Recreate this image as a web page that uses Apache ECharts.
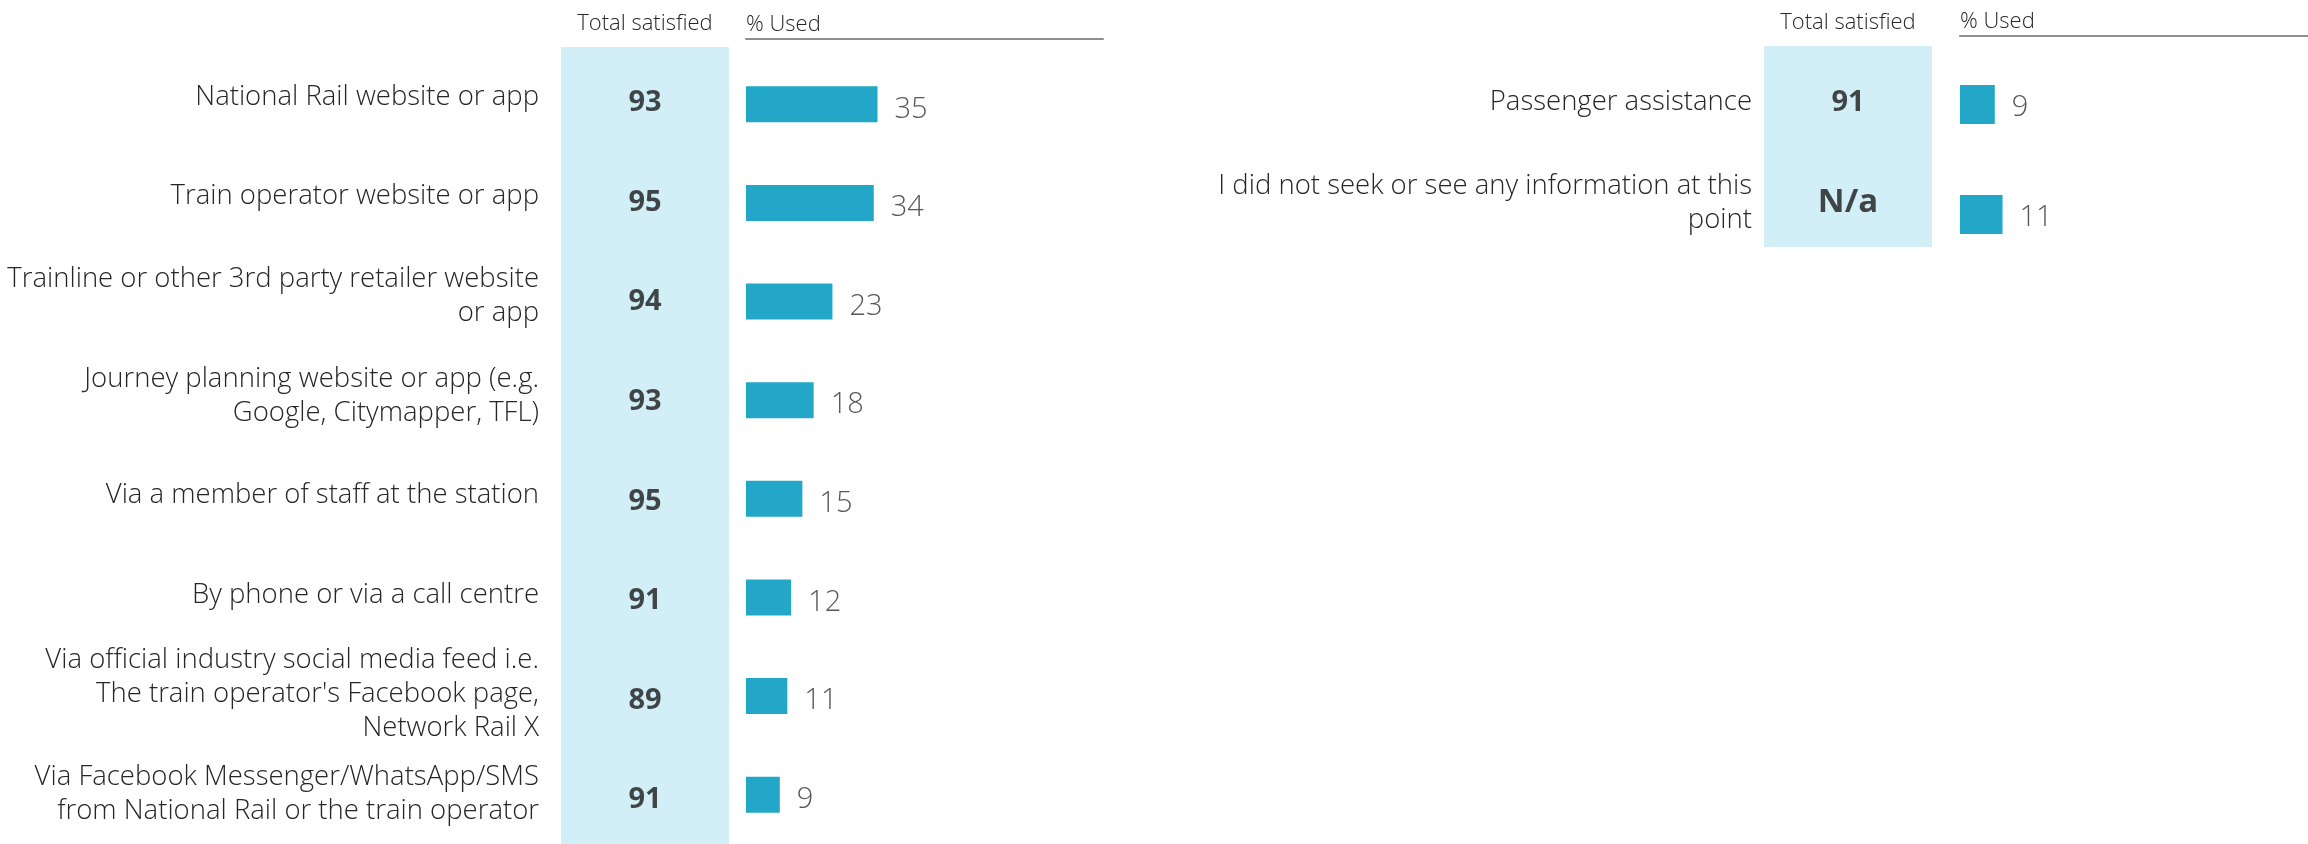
<!DOCTYPE html>
<html>
<head>
<meta charset="utf-8">
<title>Information sources used</title>
<script src="https://cdn.jsdelivr.net/npm/echarts@6/dist/echarts.min.js"></script>
<style>
  html, body { margin: 0; padding: 0; background: #ffffff; }
  #chart { width: 2308px; height: 844px; }
</style>
</head>
<body>
<div id="chart"></div>
<script>
// Left panel: information sources
const leftCategories = [
  'National Rail website or app',
  'Train operator website or app',
  'Trainline or other 3rd party retailer website\nor app',
  'Journey planning website or app (e.g.\nGoogle, Citymapper, TFL)',
  'Via a member of staff at the station',
  'By phone or via a call centre',
  'Via official industry social media feed i.e.\nThe train operator\'s Facebook page,\nNetwork Rail X',
  'Via Facebook Messenger/WhatsApp/SMS\nfrom National Rail or the train operator'
];
const leftSatisfied = [93, 95, 94, 93, 95, 91, 89, 91];
const leftUsed = [35, 34, 23, 18, 15, 12, 11, 9];

// Right panel: other sources
const rightCategories = [
  'Passenger assistance',
  'I did not seek or see any information at this\npoint'
];
const rightSatisfied = [91, null];   // null = not applicable
const rightUsed = [9, 11];

const headerSatisfied = 'Total satisfied';
const headerUsed = '% Used';

const FONT = '"Open Sans"';
const TEXT = '#262626';
const BAND = '#d2eef6';
const BAR = '#22a7c9';

const hiddenAxisParts = {
  axisLine: { show: false }, axisTick: { show: false },
  axisLabel: { show: false }, splitLine: { show: false }
};

// Light-blue "Total satisfied" column, drawn as a grid background
function bandGrid(left, top, height) {
  return { left: left, top: top, width: 168, height: height, show: true,
           backgroundColor: BAND, borderWidth: 0 };
}

function bandXAxis(gridIndex, withHeader) {
  return Object.assign({
    gridIndex: gridIndex, type: 'value', min: -1, max: 1, position: 'top',
    name: withHeader ? headerSatisfied : '', nameLocation: 'middle', nameGap: 12,
    nameTextStyle: { fontFamily: FONT, fontWeight: 300, fontSize: 22, color: TEXT }
  }, hiddenAxisParts);
}

function catYAxis(gridIndex, data, margin, showLabels) {
  return {
    gridIndex: gridIndex, type: 'category', data: data, inverse: true,
    axisLine: { show: false }, axisTick: { show: false }, splitLine: { show: false },
    axisLabel: {
      show: showLabels, margin: margin, fontFamily: FONT, fontWeight: 300,
      fontSize: 27.5, lineHeight: 34, color: TEXT, align: 'right'
    }
  };
}

// "% Used" header with its underline (the axis line of the bar scale)
function usedXAxis(gridIndex, max, offset) {
  return {
    gridIndex: gridIndex, type: 'value', min: 0, max: max, position: 'top',
    offset: offset,
    name: headerUsed, nameLocation: 'start', nameGap: 0,
    nameTextStyle: { fontFamily: FONT, fontWeight: 300, fontSize: 22, color: TEXT,
                     align: 'left', verticalAlign: 'bottom', padding: [0, 0, 3, 0] },
    axisLine: { show: true, lineStyle: { color: '#8f8f8f', width: 2 } },
    axisTick: { show: false }, axisLabel: { show: false }, splitLine: { show: false }
  };
}

function satisfiedSeries(axisIndex, values, dy) {
  return {
    type: 'scatter', xAxisIndex: axisIndex, yAxisIndex: axisIndex,
    symbolSize: 0, silent: true,
    data: values.map((v, i) => ({ value: [0, i], raw: v })),
    label: {
      show: true, position: 'inside', offset: [0, dy],
      fontFamily: FONT, fontWeight: 'bold', fontSize: 29, color: '#1a1a1a',
      formatter: p => p.data.raw == null ? 'N/a' : String(p.data.raw)
    }
  };
}

function usedSeries(axisIndex, values, barWidth, dy) {
  return {
    type: 'bar', xAxisIndex: axisIndex, yAxisIndex: axisIndex,
    data: values, barWidth: barWidth, silent: true,
    itemStyle: { color: BAR },
    label: {
      show: true, position: 'right', distance: 17, offset: [0, dy],
      fontFamily: FONT, fontWeight: 300, fontSize: 29, color: '#595959'
    }
  };
}

const satLeft = satisfiedSeries(0, leftSatisfied, 6);
const satRight = satisfiedSeries(4, rightSatisfied, 0);
satRight.data[1].label = { fontSize: 33 };

const option = {
  animation: false,
  backgroundColor: '#ffffff',
  grid: [
    bandGrid(561, 47, 802),
    { left: 746, top: 55, width: 357, height: 796 },
    bandGrid(1764, 46, 201),
    { left: 1960, top: 49.5, width: 348, height: 220 },
    { left: 1764, top: 52, width: 168, height: 201 }
  ],
  xAxis: [
    bandXAxis(0, true),
    usedXAxis(1, 95, 16),
    bandXAxis(2, true),
    usedXAxis(3, 90, 14),
    bandXAxis(4, false)
  ],
  yAxis: [
    catYAxis(0, leftCategories, 22, true),
    catYAxis(1, leftCategories, 0, false),
    catYAxis(2, rightCategories, 0, false),
    catYAxis(3, rightCategories, 0, false),
    catYAxis(4, rightCategories, 12, true)
  ],
  series: [
    satLeft,
    usedSeries(1, leftUsed, 36, 5),
    satRight,
    usedSeries(3, rightUsed, 39, 3)
  ]
};

const chart = echarts.init(document.getElementById('chart'), null, { renderer: 'canvas' });
chart.setOption(option);
</script>
</body>
</html>
